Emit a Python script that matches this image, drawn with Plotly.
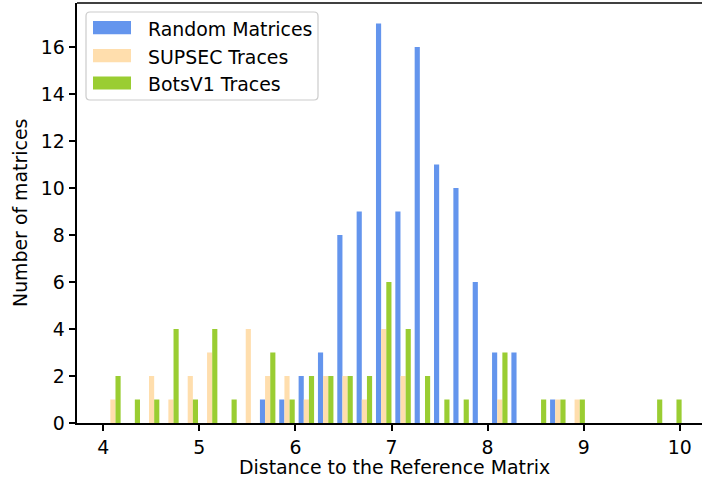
import numpy as np
import plotly.graph_objects as go

# Histogram bins (distance to the reference matrix)
bin_start = 4.0
bin_width = 0.2013
n_bins = 30

random_counts = [0, 0, 0, 0, 0, 0, 0, 0, 1, 1, 2, 3, 8, 9, 17, 9, 16, 11, 10, 6, 3, 3, 0, 1, 0, 0, 0, 0, 0, 0]
supsec_counts = [1, 0, 2, 1, 2, 3, 0, 4, 2, 2, 1, 2, 2, 1, 4, 2, 0, 0, 0, 0, 1, 0, 0, 1, 1, 0, 0, 0, 0, 0]
bots_counts = [2, 1, 1, 4, 1, 4, 1, 0, 3, 1, 2, 2, 2, 2, 6, 4, 2, 1, 1, 0, 3, 0, 1, 1, 1, 0, 0, 0, 1, 1]

series_names = ["Random Matrices", "SUPSEC Traces", "BotsV1 Traces"]
series_colors = ["#6495ED", "#FFDEAD", "#9ACD32"]

x_ticks = [4, 5, 6, 7, 8, 9, 10]
y_ticks = [0, 2, 4, 6, 8, 10, 12, 14, 16]

centers = bin_start + bin_width * (np.arange(n_bins) + 0.5)

FONT = "DejaVu Sans"
FS = 18.9
W, H = 702, 484
L, R, T, B = 77, 0, 3, 61
PW, PH = W - L - R, H - T - B


def px2x(px):
    return (px - L) / PW


def px2y(py):
    return (H - B - py) / PH


def rounded_rect_path(x0, y0, x1, y1, r):
    # pixel coords (y down) -> paper-coordinate SVG path with rounded corners
    pts = []
    X = lambda v: px2x(v)
    Y = lambda v: px2y(v)
    p = (f"M {X(x0 + r)},{Y(y0)} L {X(x1 - r)},{Y(y0)} Q {X(x1)},{Y(y0)} {X(x1)},{Y(y0 + r)} "
         f"L {X(x1)},{Y(y1 - r)} Q {X(x1)},{Y(y1)} {X(x1 - r)},{Y(y1)} "
         f"L {X(x0 + r)},{Y(y1)} Q {X(x0)},{Y(y1)} {X(x0)},{Y(y1 - r)} "
         f"L {X(x0)},{Y(y0 + r)} Q {X(x0)},{Y(y0)} {X(x0 + r)},{Y(y0)} Z")
    return p


fig = go.Figure()
for name, counts, color in zip(series_names, [random_counts, supsec_counts, bots_counts], series_colors):
    fig.add_trace(go.Bar(x=centers, y=counts, name=name, marker=dict(color=color, line=dict(width=0)),
                         showlegend=False))

axis_common = dict(showgrid=False, zeroline=False, showline=True, linecolor="black", linewidth=1.5,
                   ticks="outside", ticklen=6.6, tickwidth=1.5, tickcolor="black", automargin=False,
                   tickfont=dict(family=FONT, size=FS, color="black"))

fig.update_layout(
    width=W, height=H,
    margin=dict(l=L, r=R, t=T, b=B, pad=0),
    paper_bgcolor="white", plot_bgcolor="white",
    barmode="group", bargap=0.2, bargroupgap=0,
    font=dict(family=FONT, size=FS, color="black"),
    xaxis=dict(range=[3.727, 10.231], tickvals=x_ticks, ticktext=[str(v) for v in x_ticks], **axis_common),
    yaxis=dict(range=[0, 17.87], tickvals=y_ticks, ticktext=[str(v) for v in y_ticks], **axis_common),
)

shapes = [
    # top spine
    dict(type="line", xref="paper", yref="paper", x0=0, x1=1, y0=1, y1=1,
         line=dict(color="black", width=1.5)),
    # legend frame
    dict(type="path", xref="paper", yref="paper", path=rounded_rect_path(86, 12, 318, 100, 4),
         line=dict(color="#cccccc", width=1.2), fillcolor="rgba(255,255,255,0.8)"),
]
annotations = []
patch_y = [27.7, 55.7, 83.0]
text_y = [29.0, 56.7, 84.3]
for name, color, py, ty in zip(series_names, series_colors, patch_y, text_y):
    shapes.append(dict(type="rect", xref="paper", yref="paper", x0=px2x(93), x1=px2x(131),
                       y0=px2y(py + 6.6), y1=px2y(py - 6.6), line=dict(width=0), fillcolor=color))
    annotations.append(dict(xref="paper", yref="paper", x=px2x(145.5), y=px2y(ty), text=name,
                            showarrow=False, xanchor="left", yanchor="middle",
                            font=dict(family=FONT, size=FS, color="black")))

annotations.append(dict(xref="paper", yref="paper", x=px2x(394), y=px2y(467),
                        text="Distance to the Reference Matrix", showarrow=False,
                        xanchor="center", yanchor="middle", font=dict(family=FONT, size=FS, color="black")))
annotations.append(dict(xref="paper", yref="paper", x=px2x(20), y=px2y(213),
                        text="Number of matrices", showarrow=False, textangle=-90,
                        xanchor="center", yanchor="middle", font=dict(family=FONT, size=FS, color="black")))

fig.update_layout(shapes=shapes, annotations=annotations)
fig.write_html("out.html", config={"displayModeBar": False},
               post_script="document.body.style.margin='0';document.body.style.overflow='hidden';")
